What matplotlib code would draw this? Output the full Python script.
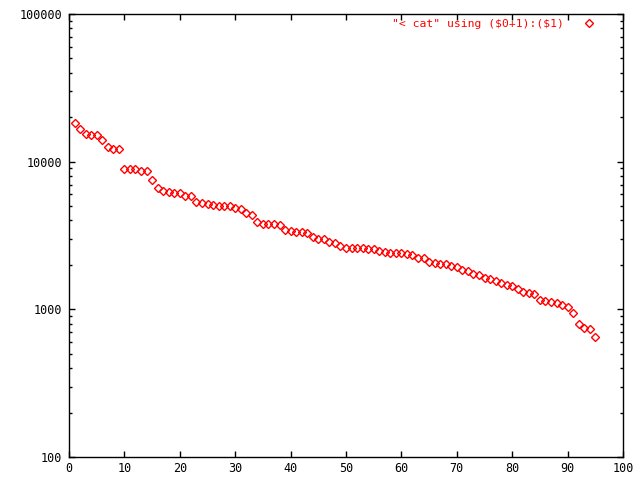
import matplotlib
matplotlib.use('Agg')
import matplotlib.pyplot as plt
import matplotlib.ticker as ticker
import numpy as np

# values (sorted counts, index+1 on x)
counts = [18200, 16700, 15500, 15230, 15230, 13940, 12630, 12250, 12250, 8970,
          8970, 8870, 8690, 8690, 7550, 6670, 6320, 6260, 6170, 6090,
          5885, 5885, 5360, 5245, 5195, 5115, 5035, 5035, 4980, 4880,
          4805, 4515, 4375, 3925, 3805, 3805, 3805, 3745, 3465, 3400,
          3357, 3357, 3305, 3105, 3010, 3010, 2873, 2828, 2700, 2617,
          2617, 2617, 2617, 2576, 2576, 2497, 2443, 2420, 2420, 2420,
          2383, 2346, 2239, 2239, 2104, 2071, 2039, 2039, 1976, 1945,
          1857, 1828, 1744, 1717, 1639, 1613, 1564, 1516, 1469, 1446,
          1380, 1318, 1297, 1277, 1163, 1145, 1127, 1110, 1076, 1043,
          950, 800, 752, 740, 653]
xs = np.arange(1, len(counts) + 1)

legend_label = r'"< cat" using (\$0+1):(\$1)'
xticks = [0, 10, 20, 30, 40, 50, 60, 70, 80, 90, 100]
yticks = [100, 1000, 10000, 100000]

mono = 'DejaVu Sans Mono'

fig = plt.figure(figsize=(6.4, 4.8), dpi=100)
ax = fig.add_axes([69/640, 1-457/480, (623-69)/640, (457-14)/480])

ax.plot(xs, counts, linestyle='none', marker='D', markersize=4.2,
        markerfacecolor='none', markeredgecolor='#ff0000', markeredgewidth=1.0,
        label=legend_label)

ax.set_yscale('log')
ax.set_xlim(0, 100)
ax.set_ylim(100, 100000)

ax.xaxis.set_major_locator(ticker.FixedLocator(xticks))
ax.yaxis.set_major_locator(ticker.FixedLocator(yticks))
ax.yaxis.set_minor_locator(ticker.LogLocator(base=10, subs=np.arange(2, 10)))
ax.yaxis.set_major_formatter(ticker.FuncFormatter(lambda v, p: '%d' % v))
ax.yaxis.set_minor_formatter(ticker.NullFormatter())

ax.tick_params(which='both', direction='in', top=True, right=True,
               colors='black', width=1.0)
ax.tick_params(which='major', length=4.3)
ax.tick_params(which='minor', length=2.1)
ax.tick_params(axis='x', pad=3.5, labelsize=8.5)
ax.tick_params(axis='y', pad=5, labelsize=8.5)
for lab in ax.get_xticklabels() + ax.get_yticklabels():
    lab.set_fontfamily(mono)

for sp in ax.spines.values():
    sp.set_linewidth(1.0)
    sp.set_color('black')

leg = ax.legend(loc='upper right', bbox_to_anchor=(0.966, 1.006),
                frameon=False, markerfirst=False,
                prop={'family': mono, 'size': 8.2}, labelcolor='#ff0000',
                handletextpad=1.6, borderaxespad=0.3, handlelength=1.2)

fig.savefig('out.png', dpi=100)
